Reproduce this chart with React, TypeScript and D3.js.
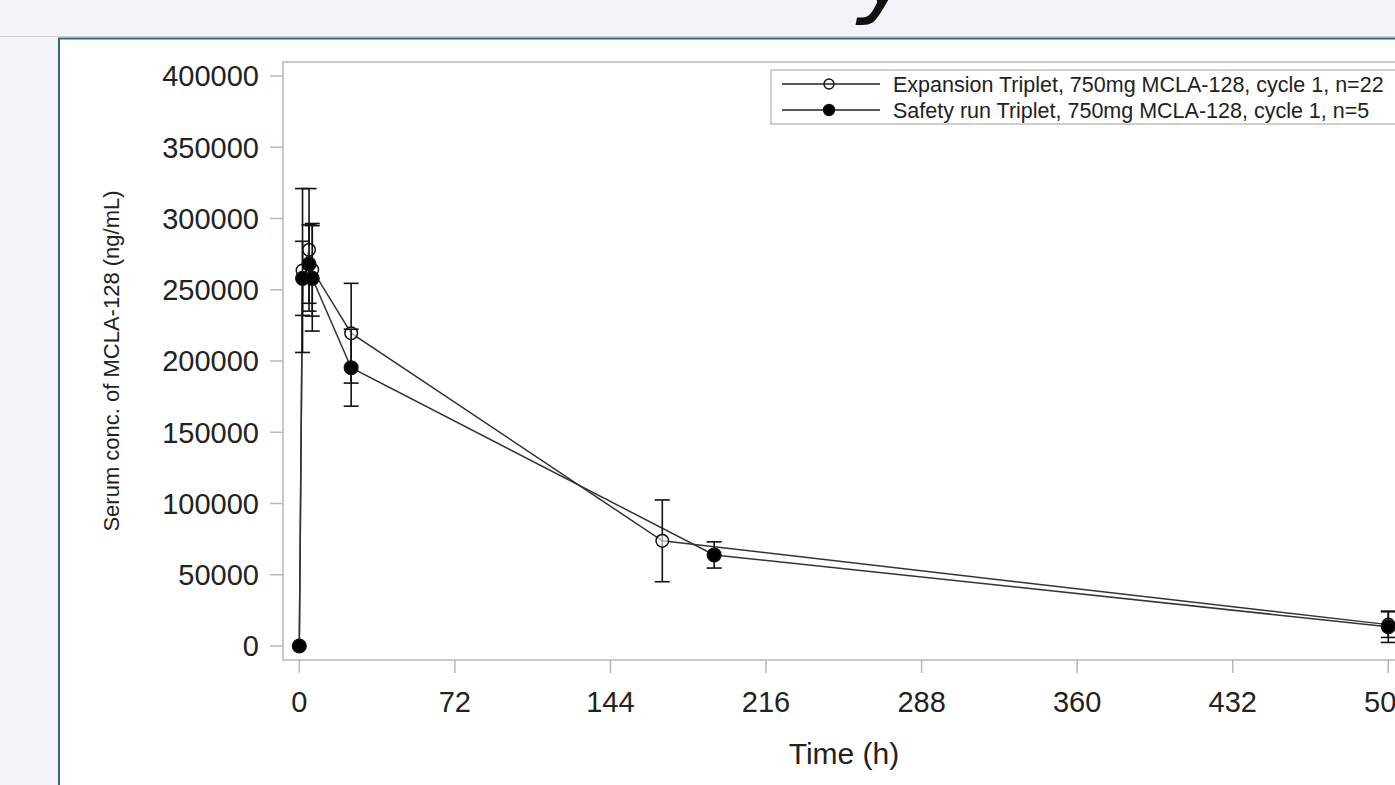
import React from "react";
import * as d3 from "d3";

// time points (h)
const expTimes = [0, 1.5, 4.5, 6, 24, 168, 504];
const expMean = [0, 263500, 278000, 264000, 219500, 73800, 15000];
const expSd = [0, 57500, 43000, 32500, 35000, 28700, 9000];

const safTimes = [0, 1.5, 4.5, 6, 24, 192, 504];
const safMean = [0, 258000, 268000, 258000, 195300, 63900, 13500];
const safSd = [0, 26000, 27500, 37000, 27000, 9200, 11000];

const xTicks = [0, 72, 144, 216, 288, 360, 432, 504];
const yTicks = [0, 50000, 100000, 150000, 200000, 250000, 300000, 350000, 400000];

const legendLabels = [
  "Expansion Triplet, 750mg MCLA-128, cycle 1, n=22",
  "Safety run Triplet, 750mg MCLA-128, cycle 1, n=5",
];

const W = 1395;
const H = 785;
const FONT = "'Liberation Sans', Arial, sans-serif";

export default function App() {
  // plot frame
  const frame = { left: 283, top: 62, right: 1405, bottom: 660 };

  const x = d3.scaleLinear().domain([0, 504]).range([299.3, 1388.3]);
  const y = d3.scaleLinear().domain([0, 400000]).range([646, 76]);

  const line = d3
    .line<[number, number]>()
    .x((d) => x(d[0]))
    .y((d) => y(d[1]));

  const series = [
    { times: expTimes, mean: expMean, sd: expSd, filled: false },
    { times: safTimes, mean: safMean, sd: safSd, filled: true },
  ];

  return (
    <svg
      width={W}
      height={H}
      style={{ position: "absolute", left: 0, top: 0, background: "#f3f4f9" }}
    >
      {/* slide panel */}
      <rect x={59} y={38} width={W} height={H} fill="#ffffff" />
      <line x1={0} x2={W} y1={36.5} y2={36.5} stroke="#cfd4dc" strokeWidth={1} />
      <line x1={58} x2={W} y1={38.5} y2={38.5} stroke="#2e6c7a" strokeWidth={2} />
      <line x1={59} x2={59} y1={38} y2={H} stroke="#2e6c7a" strokeWidth={2} />

      {/* cut-off title glyph */}
      <text
        x={858}
        y={4}
        fontFamily="'DejaVu Sans', sans-serif"
        fontStyle="italic"
        fontSize={100}
        fill="#111"
      >
        y
      </text>

      {/* plot frame */}
      <rect
        x={frame.left}
        y={frame.top}
        width={frame.right - frame.left}
        height={frame.bottom - frame.top}
        fill="#fff"
        stroke="#c8c8c8"
        strokeWidth={2}
      />

      {/* y axis */}
      {yTicks.map((t) => (
        <g key={t}>
          <line x1={270} x2={frame.left} y1={y(t)} y2={y(t)} stroke="#b8b8b8" strokeWidth={1.5} />
          <text
            x={259}
            y={y(t)}
            dy="0.36em"
            textAnchor="end"
            fontFamily={FONT}
            fontSize={29}
            fill="#222"
          >
            {t}
          </text>
        </g>
      ))}
      <text
        transform={`translate(119,${(frame.top + frame.bottom) / 2}) rotate(-90)`}
        textAnchor="middle"
        fontFamily={FONT}
        fontSize={22}
        fill="#222"
      >
        Serum conc. of MCLA-128 (ng/mL)
      </text>

      {/* x axis */}
      {xTicks.map((t) => (
        <g key={t}>
          <line x1={x(t)} x2={x(t)} y1={frame.bottom} y2={673} stroke="#b8b8b8" strokeWidth={1.5} />
          <text
            x={x(t)}
            y={712}
            textAnchor="middle"
            fontFamily={FONT}
            fontSize={29}
            fill="#222"
          >
            {t}
          </text>
        </g>
      ))}
      <text
        x={(frame.left + frame.right) / 2}
        y={764}
        textAnchor="middle"
        fontFamily={FONT}
        fontSize={30}
        fill="#222"
      >
        Time (h)
      </text>

      {/* lines */}
      {series.map((s, i) => (
        <path
          key={"l" + i}
          d={line(s.times.map((t, j) => [t, s.mean[j]] as [number, number])) || ""}
          fill="none"
          stroke="#333"
          strokeWidth={1.5}
        />
      ))}

      {/* error bars and markers */}
      {series.map((s, i) => (
        <g key={"m" + i}>
          {s.times.map((t, j) => {
            if (s.sd[j] === 0) return null;
            const cx = x(t);
            const y1 = y(s.mean[j] + s.sd[j]);
            const y2 = y(s.mean[j] - s.sd[j]);
            return (
              <g key={j} stroke="#111" strokeWidth={1.6}>
                <line x1={cx} x2={cx} y1={y1} y2={y2} />
                <line x1={cx - 7.5} x2={cx + 7.5} y1={y1} y2={y1} />
                <line x1={cx - 7.5} x2={cx + 7.5} y1={y2} y2={y2} />
              </g>
            );
          })}
          {s.times.map((t, j) => (
            <circle
              key={"c" + j}
              cx={x(t)}
              cy={y(s.mean[j])}
              r={s.filled ? 6.8 : 6.3}
              fill={s.filled ? "#000" : "#fff"}
              fillOpacity={s.filled ? 1 : 0.6}
              stroke="#111"
              strokeWidth={1.5}
            />
          ))}
        </g>
      ))}

      {/* legend */}
      <rect x={771} y={70} width={640} height={54} fill="#fff" stroke="#b0b0b0" strokeWidth={1.2} />
      {legendLabels.map((lab, i) => {
        const ly = 84 + i * 26;
        const filled = i === 1;
        return (
          <g key={lab}>
            <line x1={782} x2={880} y1={ly} y2={ly} stroke="#222" strokeWidth={1.5} />
            <circle
              cx={829}
              cy={ly}
              r={filled ? 5.5 : 5}
              fill={filled ? "#000" : "#fff"}
              fillOpacity={filled ? 1 : 0}
              stroke="#111"
              strokeWidth={1.4}
            />
            <text x={893} y={ly} dy="0.36em" fontFamily={FONT} fontSize={21.5} fill="#222">
              {lab}
            </text>
          </g>
        );
      })}
    </svg>
  );
}
